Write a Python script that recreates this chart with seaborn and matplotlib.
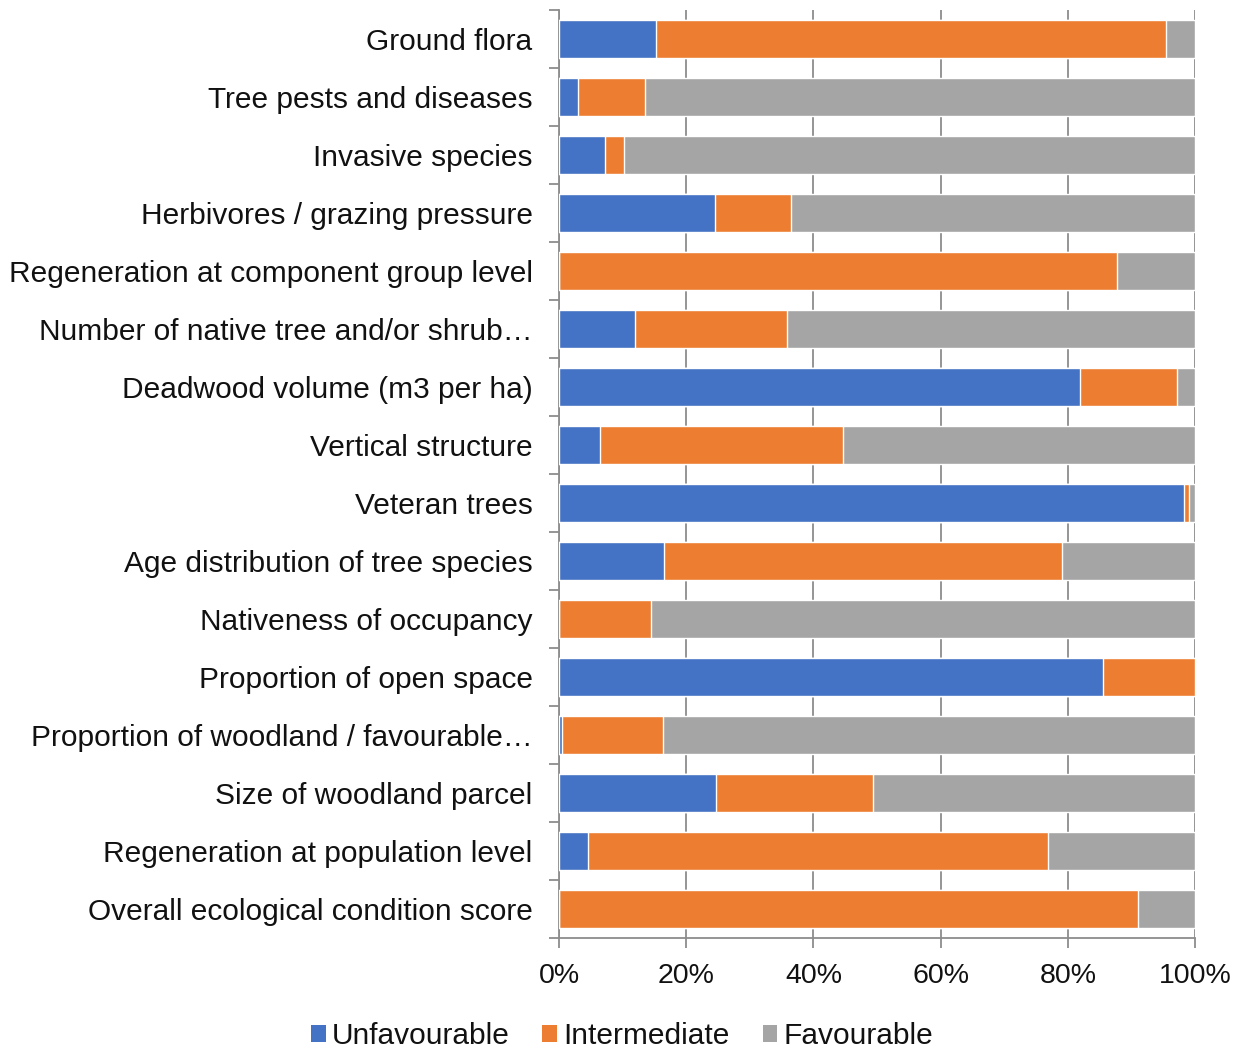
import numpy as np
import pandas as pd
import matplotlib
matplotlib.use("Agg")
import matplotlib.pyplot as plt
from matplotlib.ticker import FixedLocator, PercentFormatter
from matplotlib.patches import Patch
import seaborn as sns

categories = [
    "Ground flora",
    "Tree pests and diseases",
    "Invasive species",
    "Herbivores / grazing pressure",
    "Regeneration at component group level",
    "Number of native tree and/or shrub\u2026",
    "Deadwood volume (m3 per ha)",
    "Vertical structure",
    "Veteran trees",
    "Age distribution of tree species",
    "Nativeness of occupancy",
    "Proportion of open space",
    "Proportion of woodland / favourable\u2026",
    "Size of woodland parcel",
    "Regeneration at population level",
    "Overall ecological condition score",
]
unfavourable = [15.3, 3.0, 7.2, 24.5, 0.0, 11.9, 81.9, 6.4, 98.3, 16.5, 0.0, 85.5, 0.5, 24.7, 4.6, 0.0]
intermediate = [80.1, 10.5, 3.0, 12.0, 87.7, 23.9, 15.2, 38.3, 0.7, 62.6, 14.4, 14.5, 15.9, 24.7, 72.3, 91.1]
favourable = [100 - u - i for u, i in zip(unfavourable, intermediate)]

series_names = ["Unfavourable", "Intermediate", "Favourable"]
colors = {"Unfavourable": "#4472C4", "Intermediate": "#ED7D31", "Favourable": "#A5A5A5"}

df = pd.DataFrame({
    "category": categories,
    "Unfavourable": unfavourable,
    "Intermediate": intermediate,
    "Favourable": favourable,
})
# cumulative ends for stacking
df["end_unf"] = df["Unfavourable"]
df["end_int"] = df["Unfavourable"] + df["Intermediate"]
df["end_fav"] = df["end_int"] + df["Favourable"]

sns.set_theme(style="white")
plt.rcParams["font.family"] = ["Liberation Sans", "DejaVu Sans"]

fig = plt.figure(figsize=(12.44, 10.5), dpi=100)
ax = fig.add_axes([559 / 1244, 1 - 938 / 1050, (1195 - 559) / 1244, (938 - 10) / 1050])

bar_w = 0.66
for col, name in [("end_fav", "Favourable"), ("end_int", "Intermediate"), ("end_unf", "Unfavourable")]:
    sns.barplot(data=df, y="category", x=col, orient="h", color=colors[name],
                width=bar_w, saturation=1, ax=ax, order=categories, zorder=3)

ax.set_xlim(0, 100)
ax.set_ylim(len(categories) - 0.5, -0.5)
ax.set_xlabel("")
ax.set_ylabel("")

ax.xaxis.set_major_locator(FixedLocator([0, 20, 40, 60, 80, 100]))
ax.xaxis.set_major_formatter(PercentFormatter(decimals=0))
ax.grid(axis="x", color="#8C8C8C", linewidth=1.3, zorder=0)
ax.grid(axis="y", visible=False)

for s in ["top", "right"]:
    ax.spines[s].set_visible(False)
for s in ["left", "bottom"]:
    ax.spines[s].set_visible(True)
    ax.spines[s].set_color("#8C8C8C")
    ax.spines[s].set_linewidth(1.3)

ax.tick_params(axis="x", which="major", bottom=True, length=7, width=1.3, color="#8C8C8C",
               labelsize=20.5, pad=11, labelcolor="#111111")
ax.tick_params(axis="y", which="major", left=False, labelsize=21.5, pad=13, labelcolor="#111111")
ax.yaxis.set_minor_locator(FixedLocator(np.arange(-0.5, len(categories) + 0.5, 1.0)))
ax.tick_params(axis="y", which="minor", left=True, length=7, width=1.3, color="#8C8C8C")

handles = [Patch(facecolor=colors[n], edgecolor="none", label=n) for n in series_names]
fig.legend(handles=handles, loc="center", bbox_to_anchor=(0.5, 1 - 1036 / 1050), ncol=3,
           frameon=False, fontsize=21.5, handlelength=0.5, handleheight=0.5,
           handletextpad=0.2, columnspacing=1.1, labelcolor="#111111")

fig.savefig("out.png", dpi=100, facecolor="white")
